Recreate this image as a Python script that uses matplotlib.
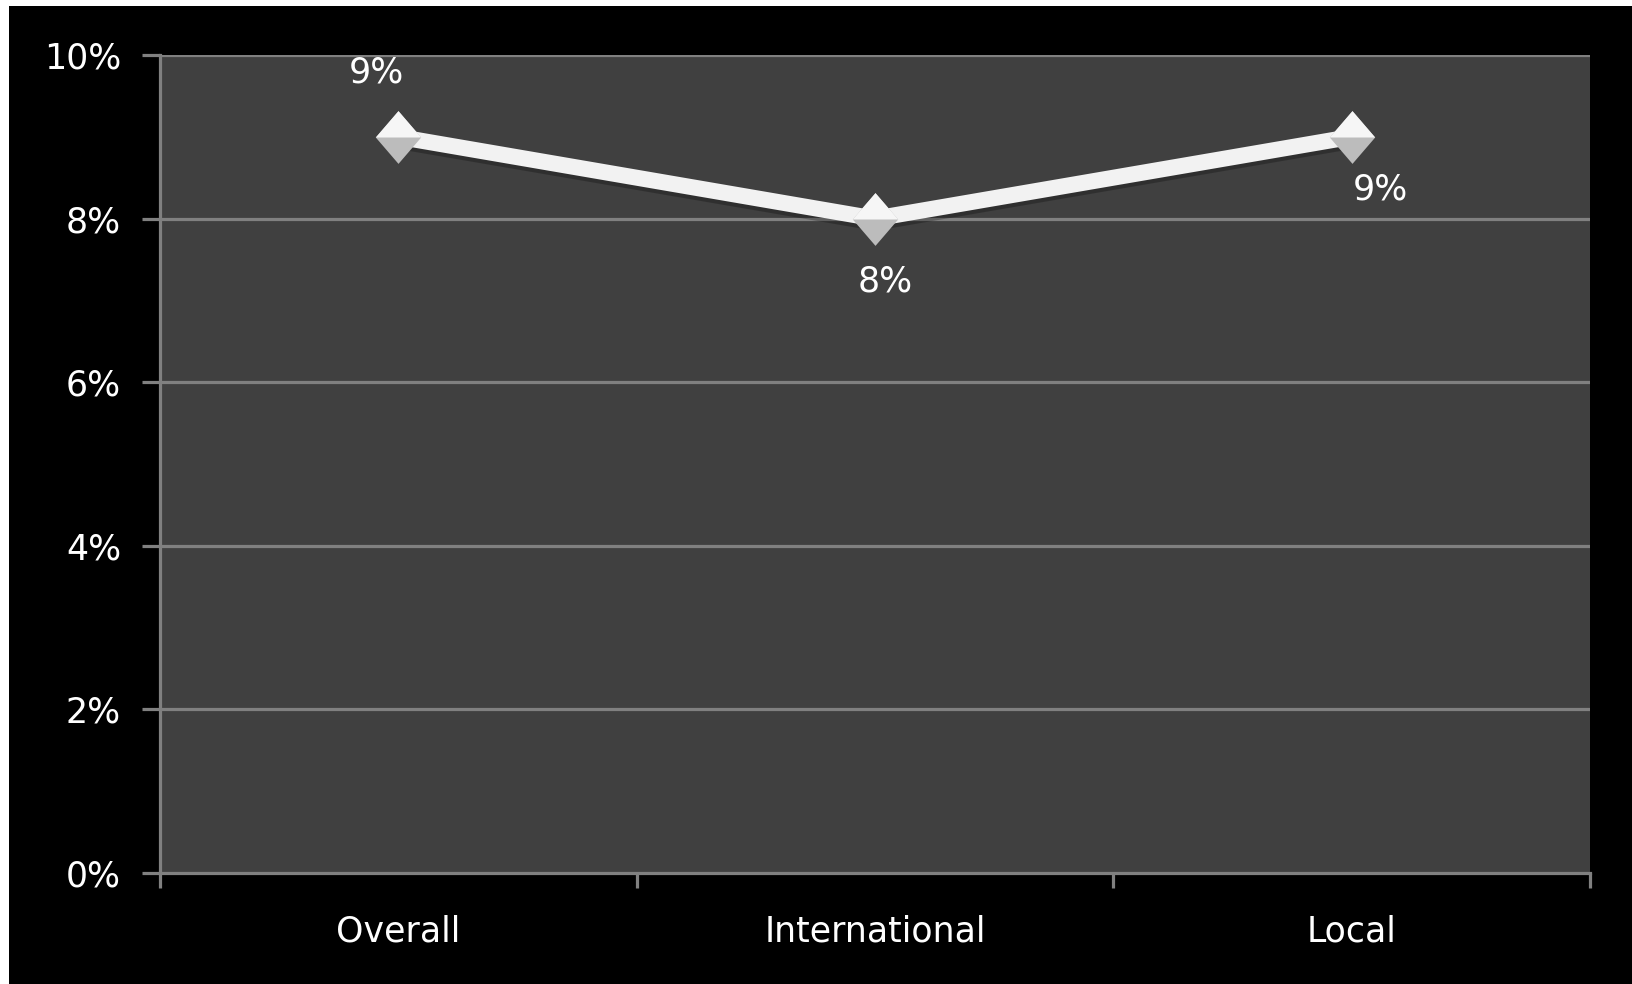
import numpy as np
import matplotlib
matplotlib.use("Agg")
import matplotlib.pyplot as plt
import matplotlib.patches as mpatches
import matplotlib.patheffects as pe
from matplotlib.ticker import FuncFormatter


categories = ["Overall", "International", "Local"]
values = [9, 8, 9]  # percent
label_text = ["9%", "8%", "9%"]
# label offsets in points (Excel-like placement: above / below)
label_offsets = [(-16, 46), (7, -45), (21, -38)]

y_ticks = [0, 2, 4, 6, 8, 10]

fig = plt.figure(figsize=(16.32, 9.84), dpi=100)
fig.patch.set_facecolor("white")
# black chart area (thin white strip left/top like the screenshot)
fig.add_artist(mpatches.Rectangle((9 / 1632, 0), 1, (984 - 6) / 984,
                                  transform=fig.transFigure, facecolor="black",
                                  edgecolor="none", zorder=0))

ax = fig.add_axes([160 / 1632, (984 - 873) / 984, 1430 / 1632, 818 / 984])
ax.set_facecolor("#404040")

grid_col = "#808080"
x = np.arange(len(categories)) + 0.5

ax.set_xlim(0, len(categories))
ax.set_ylim(0, 10)

for yv in y_ticks[1:]:
    ax.axhline(yv, color=grid_col, lw=2.3, zorder=1)

line, = ax.plot(x, values, color="#f2f2f2", lw=11.5, zorder=3, solid_capstyle="butt",
                path_effects=[pe.SimpleLineShadow(offset=(0, -3), shadow_color="black", alpha=0.25),
                              pe.Normal()])

# diamond markers: grey body with a light top half
diamond = [(0, 1), (0.86, 0), (0, -1), (-0.86, 0), (0, 1)]
top_half = [(0, 1), (0.86, 0), (-0.86, 0), (0, 1)]
ax.plot(x, values, linestyle="none", marker=diamond, ms=38, mfc="#bcbcbc",
        mec="none", zorder=4)
ax.plot(x, values, linestyle="none", marker=top_half, ms=38, mfc="#f6f6f6",
        mec="none", zorder=5)

for xi, v, t, off in zip(x, values, label_text, label_offsets):
    ax.annotate(t, (xi, v), xytext=off, textcoords="offset points",
                ha="center", va="center", color="white", fontsize=25, zorder=6)

ax.set_yticks(y_ticks)
ax.yaxis.set_major_formatter(FuncFormatter(lambda v, p: f"{v:.0f}%"))
ax.tick_params(axis="y", colors=grid_col, labelcolor="white", labelsize=25,
               length=13, width=2.3, direction="out", pad=15)

ax.set_xticks(x)
ax.set_xticklabels(categories)
ax.set_xticks(np.arange(len(categories) + 1), minor=True)
ax.tick_params(axis="x", which="major", length=0, labelcolor="white",
               labelsize=25, pad=30)
ax.tick_params(axis="x", which="minor", colors=grid_col, length=11, width=2.3,
               direction="out")

for s in ["top", "right"]:
    ax.spines[s].set_visible(False)
for s in ["left", "bottom"]:
    ax.spines[s].set_color(grid_col)
    ax.spines[s].set_linewidth(2.3)

fig.savefig("out.png", dpi=100, facecolor=fig.get_facecolor())
